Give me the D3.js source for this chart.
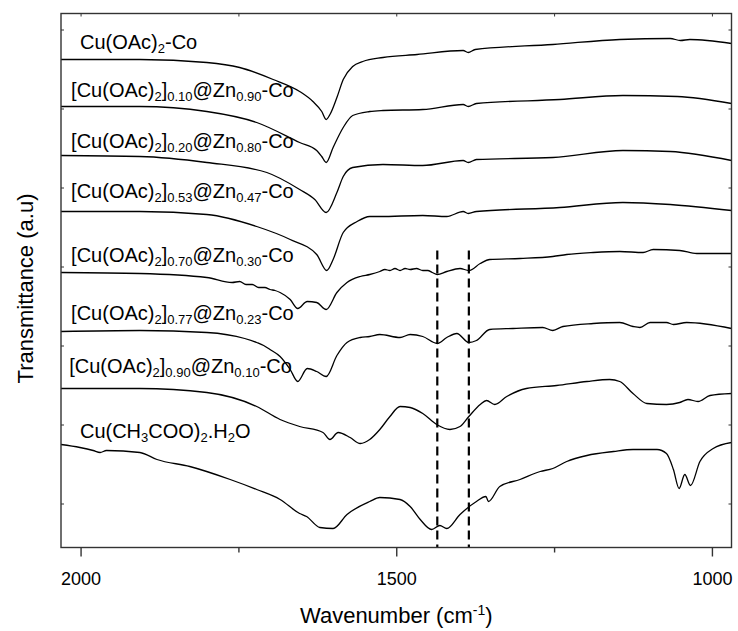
<!DOCTYPE html>
<html><head><meta charset="utf-8">
<script src="https://cdn.jsdelivr.net/npm/d3@7"></script>
<style>body{margin:0;background:#fff}</style>
</head><body><svg id="c" width="738" height="631"></svg>
<script>
// ---- data ----
const xTicksMajor = [2000, 1500, 1000];
const xTicksMinor = [1750, 1250];
const yTicksMinor = [44, 123, 202, 281, 360, 439, 518];
const markerLines = [1435, 1385];
const markerTop = 297;

const labelTexts = [
  [["Cu(OAc)",""],["2","sub"],["-Co",""]],
  [["[Cu(OAc)",""],["2","sub"],["]",""],["0.10","sub"],["@Zn",""],["0.90","sub"],["-Co",""]],
  [["[Cu(OAc)",""],["2","sub"],["]",""],["0.20","sub"],["@Zn",""],["0.80","sub"],["-Co",""]],
  [["[Cu(OAc)",""],["2","sub"],["]",""],["0.53","sub"],["@Zn",""],["0.47","sub"],["-Co",""]],
  [["[Cu(OAc)",""],["2","sub"],["]",""],["0.70","sub"],["@Zn",""],["0.30","sub"],["-Co",""]],
  [["[Cu(OAc)",""],["2","sub"],["]",""],["0.77","sub"],["@Zn",""],["0.23","sub"],["-Co",""]],
  [["[Cu(OAc)",""],["2","sub"],["]",""],["0.90","sub"],["@Zn",""],["0.10","sub"],["-Co",""]],
  [["Cu(CH",""],["3","sub"],["COO)",""],["2","sub"],[".H",""],["2","sub"],["O",""]]
];
const labelWn = [2001, 2015, 2015, 2015, 2015, 2015, 2018, 2001];
const labelT  = [498.5, 450.5, 399.5, 349.5, 285.5, 227.5, 174.5, 109.5];

const s1 = [[2031,488],[1906,488],[1800,485],[1748,480],[1695,468],[1653,456],[1632,446],[1618,436],[1611,428],[1605,433],[1594,450],[1584,468],[1569,481],[1553,486],[1521,490],[1467,493],[1394,497],[1386,495],[1375,498],[1252,503],[1146,508],[1066,509],[1050,507],[1035,508],[969,504]];
const s2 = [[2031,441],[1906,441],[1800,436],[1721,425],[1653,405],[1626,397],[1618,391],[1611,385],[1600,400],[1584,420],[1569,432],[1542,436],[1521,437],[1458,438],[1394,443],[1386,441],[1373,444],[1241,448],[1141,452],[1055,451],[969,444]];
const s3 = [[2031,392],[1906,391],[1800,385],[1705,375],[1653,358],[1629,348],[1611,335],[1594,355],[1584,371],[1569,380],[1521,383],[1458,382],[1394,387],[1386,385],[1373,388],[1252,390],[1141,397],[1066,396],[969,387]];
const s4 = [[2031,336],[1906,336],[1800,333],[1721,321],[1668,308],[1626,293],[1610,277],[1600,288],[1584,315],[1562,326],[1542,331],[1526,331],[1458,332],[1420,331],[1394,336],[1386,334],[1373,336],[1241,340],[1141,345],[1066,343],[969,337]];
const s5 = [[2031,275],[1906,274],[1800,270],[1760,265],[1748,266],[1738,263],[1728,263],[1718,260],[1708,260],[1700,258],[1692,257],[1684,255],[1668,248],[1656,239],[1641,246],[1626,245],[1611,238],[1594,255],[1578,265],[1557,271],[1542,273],[1526,276],[1518,278],[1510,277],[1502,279],[1494,277],[1486,279],[1478,278],[1468,279],[1458,277],[1450,277],[1443,275],[1435,273],[1420,276],[1399,279],[1385,277],[1367,284],[1352,288],[1304,289],[1252,291],[1230,293],[1188,295],[1146,296],[1109,295],[1093,298],[1051,297],[1024,294],[969,294]];
const s6 = [[2031,216],[1906,217],[1800,215],[1740,209],[1721,205],[1710,202],[1700,198],[1684,191],[1668,178],[1656,166],[1641,179],[1626,176],[1611,171],[1594,192],[1578,205],[1557,210],[1542,211],[1526,213],[1494,210],[1478,213],[1458,211],[1435,204],[1420,210],[1404,214],[1385,205],[1373,207],[1352,218],[1315,219],[1268,220],[1252,217],[1236,221],[1188,224],[1146,225],[1125,221],[1114,220],[1098,225],[1072,225],[1061,223],[1040,225],[969,219]];
const s7 = [[2031,159],[1906,159],[1800,155],[1721,141],[1684,128],[1653,121],[1616,115],[1605,108],[1592,115],[1573,110],[1557,104],[1542,108],[1526,118],[1510,131],[1494,141],[1478,140],[1458,134],[1436,123],[1415,118],[1399,121],[1385,131],[1367,143],[1357,147],[1344,143],[1325,151],[1294,159],[1246,162],[1198,166],[1162,168],[1146,166],[1125,154],[1103,144],[1072,143],[1051,145],[1038,148],[1022,146],[1003,152],[969,154]];
const s8 = [[2031,103],[2001,100],[1980,97],[1969,95],[1959,97],[1906,95],[1879,88],[1827,81],[1763,68],[1721,58],[1684,48],[1653,34],[1642,31],[1621,20],[1600,19],[1578,33],[1542,46],[1526,50],[1494,48],[1478,41],[1462,28],[1444,18],[1431,22],[1420,19],[1399,33],[1373,46],[1358,51],[1354,46],[1336,61],[1304,68],[1272,76],[1252,79],[1230,86],[1198,92],[1156,96],[1125,98],[1087,98],[1072,94],[1061,78],[1052,59],[1043,73],[1034,62],[1019,86],[998,99],[969,105]];
const series = [s1, s2, s3, s4, s5, s6, s7, s8];

// ---- layout ----
const m = {l: 61, r: 731.5, t: 13.5, b: 547.5};
const font = "'Liberation Sans', Arial, sans-serif";
const svg = d3.select('#c');
const x = d3.scaleLinear().domain([2031, 969]).range([m.l, m.r]);
const y = d3.scaleLinear().domain([0, 534]).range([m.b, m.t]);

const line = d3.line().x(d => x(d[0])).y(d => y(d[1])).curve(d3.curveMonotoneX);
svg.append('g').selectAll('path').data(series).join('path')
  .attr('d', line).attr('fill', 'none').attr('stroke', '#000').attr('stroke-width', 1.3);

svg.append('g').selectAll('line').data(markerLines).join('line')
  .attr('x1', d => x(d)).attr('x2', d => x(d))
  .attr('y1', y(markerTop)).attr('y2', y(0))
  .attr('stroke', '#000').attr('stroke-width', 2.2).attr('stroke-dasharray', '9,5');

svg.append('rect').attr('x', m.l).attr('y', m.t).attr('width', m.r - m.l).attr('height', m.b - m.t)
  .attr('fill', 'none').attr('stroke', '#333').attr('stroke-width', 1.4);

const xAxis = d3.axisBottom(x).tickValues(xTicksMajor).tickSize(9).tickFormat(d3.format('d'));
const gx = svg.append('g').attr('transform', `translate(0,${m.b})`).call(xAxis);
gx.select('.domain').remove();
gx.selectAll('.tick line').attr('stroke', '#333').attr('stroke-width', 1.4);
gx.selectAll('.tick text').attr('font-family', font).attr('font-size', 18).attr('fill', '#000').attr('dy', null).attr('y', 37);
const gxm = svg.append('g').attr('transform', `translate(0,${m.b})`)
  .call(d3.axisBottom(x).tickValues(xTicksMinor).tickSize(5).tickFormat(''));
gxm.select('.domain').remove();
gxm.selectAll('.tick line').attr('stroke', '#333').attr('stroke-width', 1.4);
const gt = svg.append('g').attr('transform', `translate(0,${m.t})`)
  .call(d3.axisBottom(x).tickValues(xTicksMajor.concat(xTicksMinor)).tickSize(3).tickFormat(''));
gt.select('.domain').remove();
gt.selectAll('.tick line').attr('stroke', '#333');
const gl = svg.append('g').attr('transform', `translate(${m.l},0)`)
  .call(d3.axisRight(y).tickValues(yTicksMinor).tickSize(3).tickFormat(''));
gl.select('.domain').remove();
gl.selectAll('.tick line').attr('stroke', '#333');
const gr = svg.append('g').attr('transform', `translate(${m.r},0)`)
  .call(d3.axisLeft(y).tickValues(yTicksMinor).tickSize(3).tickFormat(''));
gr.select('.domain').remove();
gr.selectAll('.tick line').attr('stroke', '#333');

function rich(sel, segs, size, subSize, subDy) {
  let shift = 0;
  segs.forEach(([s, k]) => {
    const target = k === 'sub' ? subDy : (k === 'sup' ? -8 : 0);
    sel.append('tspan').attr('dy', target - shift)
      .attr('font-size', k ? subSize : size).text(s);
    shift = target;
  });
}
const gLab = svg.append('g').attr('font-family', font).attr('fill', '#000');
labelTexts.forEach((segs, i) => {
  const t = gLab.append('text').attr('x', x(labelWn[i])).attr('y', y(labelT[i]));
  rich(t, segs, 20, 13, 4);
});

const xt = svg.append('text').attr('x', (m.l + m.r) / 2).attr('y', 623)
  .attr('text-anchor', 'middle').attr('font-family', font).attr('font-size', 22).attr('fill', '#000');
rich(xt, [["Wavenumber  (cm",""],["-1","sup"],[")",""]], 22, 14, 0);
svg.append('text').attr('transform', `translate(33,${(m.t + m.b) / 2 + 8}) rotate(-90)`)
  .attr('text-anchor', 'middle').attr('font-family', font).attr('font-size', 22).attr('fill', '#000')
  .text('Transmittance (a.u)');
</script></body></html>
